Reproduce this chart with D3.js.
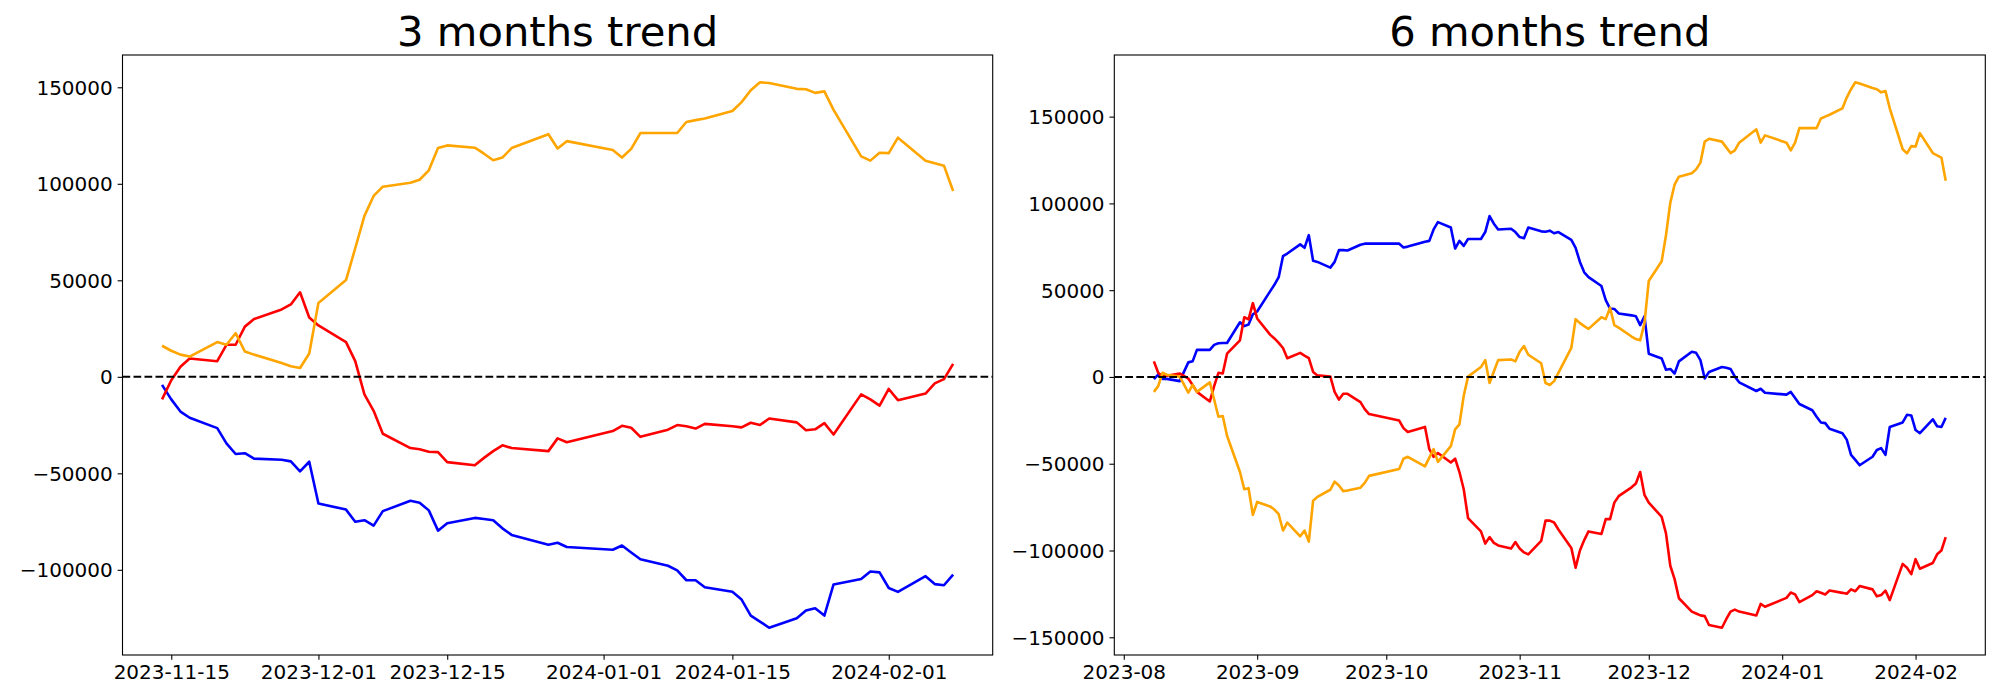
<!DOCTYPE html>
<html><head><meta charset="utf-8">
<script src="https://cdn.jsdelivr.net/npm/d3@7"></script>
<style>body{margin:0;background:#fff}svg{display:block}text{font-family:"DejaVu Sans",sans-serif}</style>
</head><body>
<svg id="c" width="2000" height="700"></svg>
<script>
const titles = ["3 months trend", "6 months trend"];
const seriesColors = ["blue", "red", "orange"];

const dates3 = [
"2023-11-14","2023-11-15","2023-11-16","2023-11-17","2023-11-20","2023-11-21","2023-11-22","2023-11-23","2023-11-24","2023-11-27","2023-11-28","2023-11-29","2023-11-30",
"2023-12-01","2023-12-04","2023-12-05","2023-12-06","2023-12-07","2023-12-08","2023-12-11","2023-12-12","2023-12-13","2023-12-14","2023-12-15","2023-12-18","2023-12-19","2023-12-20","2023-12-21","2023-12-22","2023-12-26","2023-12-27","2023-12-28",
"2024-01-02","2024-01-03","2024-01-04","2024-01-05","2024-01-08","2024-01-09","2024-01-10","2024-01-11","2024-01-12","2024-01-15","2024-01-16","2024-01-17","2024-01-18","2024-01-19","2024-01-22","2024-01-23","2024-01-24","2024-01-25","2024-01-26","2024-01-29","2024-01-30","2024-01-31",
"2024-02-01","2024-02-02","2024-02-05","2024-02-06","2024-02-07","2024-02-08"];
const blue3 = [
-4200,-11700,-18000,-21200,-26600,-34500,-40000,-39600,-42400,-43000,-43800,-49000,-44000,
-65600,-68800,-75100,-74300,-77100,-69600,-64200,-65200,-69200,-79700,-75900,-73100,-73700,-74300,-78500,-81900,-87000,-86000,-88200,
-89600,-87400,-91000,-94500,-97900,-100300,-105400,-105400,-109000,-111400,-115400,-123700,-126800,-130000,-125100,-121100,-119900,-123700,-107600,-104800,-100900,-101300,
-109400,-111400,-103300,-107400,-108000,-102500];
const red3 = [
-11700,-1800,5200,9500,8100,16600,16600,26000,29900,34900,37500,43800,30700,
26600,18000,8100,-9100,-17600,-29500,-36900,-37500,-38800,-39000,-44200,-45800,-42000,-38500,-35500,-36900,-38500,-31900,-33900,
-28100,-25400,-26400,-31100,-27400,-25000,-25600,-26800,-24400,-25600,-26200,-23800,-25000,-21600,-23600,-27700,-27200,-24000,-29900,-9100,-11700,-14900,
-6300,-12100,-8700,-3400,-1200,6700];
const orange3 = [
16100,13500,11500,10500,18000,16600,22600,13100,11500,7100,5500,4600,12100,
38300,50100,66600,83400,93700,98500,100500,102100,107000,118500,119900,118700,115600,112200,113600,118500,125700,118300,122100,
117500,113600,118100,126300,126300,126300,132000,133000,133800,137700,142300,148500,152600,152200,149200,149000,147100,147900,138300,114200,112000,116100,
115900,123900,112000,110600,109400,96300];

const dates6 = [
"2023-08-08","2023-08-09","2023-08-10","2023-08-11","2023-08-14","2023-08-16","2023-08-17","2023-08-18","2023-08-21","2023-08-22","2023-08-23","2023-08-24","2023-08-25","2023-08-28","2023-08-29","2023-08-30","2023-08-31",
"2023-09-01","2023-09-04","2023-09-05","2023-09-06","2023-09-07","2023-09-08","2023-09-11","2023-09-12","2023-09-13","2023-09-14","2023-09-15","2023-09-18","2023-09-19","2023-09-20","2023-09-21","2023-09-22","2023-09-25","2023-09-26","2023-09-27",
"2023-10-04","2023-10-05","2023-10-06","2023-10-10","2023-10-11","2023-10-12","2023-10-13","2023-10-16","2023-10-17","2023-10-18","2023-10-19","2023-10-20","2023-10-23","2023-10-24","2023-10-25","2023-10-26","2023-10-27","2023-10-30","2023-10-31",
"2023-11-01","2023-11-02","2023-11-03","2023-11-06","2023-11-07","2023-11-08","2023-11-09","2023-11-10","2023-11-13","2023-11-14","2023-11-15","2023-11-16","2023-11-17","2023-11-20","2023-11-21","2023-11-22","2023-11-23","2023-11-24","2023-11-27","2023-11-28","2023-11-29","2023-11-30",
"2023-12-01","2023-12-04","2023-12-05","2023-12-06","2023-12-07","2023-12-08","2023-12-11","2023-12-12","2023-12-13","2023-12-14","2023-12-15","2023-12-18","2023-12-19","2023-12-20","2023-12-21","2023-12-22","2023-12-26","2023-12-27","2023-12-28",
"2024-01-02","2024-01-03","2024-01-04","2024-01-05","2024-01-08","2024-01-09","2024-01-10","2024-01-11","2024-01-12","2024-01-15","2024-01-16","2024-01-17","2024-01-18","2024-01-19","2024-01-22","2024-01-23","2024-01-24","2024-01-25","2024-01-26","2024-01-29","2024-01-30","2024-01-31",
"2024-02-01","2024-02-02","2024-02-05","2024-02-06","2024-02-07","2024-02-08"];
const blue6 = [
-1300,1300,-1100,-1100,-2400,8400,9000,15600,15600,18500,19400,19600,19600,31500,29300,30200,36100,
37700,49300,53100,57500,69600,71100,76400,74400,81700,66900,66300,63000,66300,73100,73100,72900,76200,76800,76800,
76800,74600,75100,77900,78400,85000,89200,86100,74000,78400,75500,79500,79500,83500,92700,88300,85000,85400,83500,
80600,79900,86100,83900,83700,84300,82800,83500,79000,74400,66300,60300,57500,52400,44300,39400,39200,36600,35500,35000,29900,35000,
13400,10600,4200,4600,2000,9000,14500,13900,9700,-900,2900,5700,5300,4600,200,-3100,-8100,-6800,-9100,
-10200,-8600,-12100,-15600,-19200,-22900,-26200,-26600,-29900,-32400,-36100,-44900,-47800,-50900,-46000,-42100,-41000,-44900,-28800,-26200,-21800,-22200,
-30600,-32400,-24400,-28400,-28800,-23600];
const red6 = [
9000,2400,200,700,2000,-900,-4600,-8600,-14100,-5300,2400,2000,13400,21100,34400,33200,42500,
33700,24400,22200,19600,16700,10800,13900,12300,10800,2900,900,200,-8600,-13000,-9700,-9700,-14500,-18500,-21400,
-25100,-29500,-31700,-28800,-41600,-46000,-43800,-49300,-47100,-54800,-64700,-81300,-89000,-96000,-92300,-95600,-97100,-98900,-95100,
-98900,-101100,-102200,-94500,-82800,-82800,-83900,-87900,-98500,-109900,-100000,-94000,-89000,-90500,-81900,-81900,-72400,-68700,-63600,-61400,-54800,-68000,
-72400,-80600,-90100,-108800,-116500,-127500,-135200,-136300,-137400,-137800,-142900,-144500,-139600,-135200,-134100,-135200,-137400,-130800,-132400,
-127300,-124200,-125300,-129700,-125700,-123500,-124400,-125300,-123100,-124400,-124900,-122400,-123500,-120500,-122400,-126400,-125700,-123100,-128600,-107700,-109900,-113600,
-105000,-110500,-107200,-102200,-100000,-92300];
const orange6 = [
-8600,-5300,2400,1300,200,-9000,-4600,-8600,-3100,-13000,-22900,-22500,-33900,-54800,-64700,-64100,-79500,
-72000,-74600,-76400,-79100,-88500,-83900,-91800,-88500,-94900,-71300,-69100,-65000,-60300,-62500,-65800,-65400,-63800,-61000,-57000,
-53100,-47100,-46000,-51500,-46500,-41600,-48900,-39900,-30200,-27300,-10800,200,5700,9700,-3500,3100,9700,10100,9000,
14500,17800,12800,7900,-3500,-4600,-2400,2400,16700,33300,31000,29300,27700,34400,33300,39900,29900,28400,23300,21800,21100,31000,
55300,66700,81700,100400,110800,115400,117400,119600,123500,135600,137200,135600,132300,129000,130600,135000,142700,135000,139200,
135000,130600,135000,143400,143400,143400,148900,150000,151100,154800,161000,165800,169800,169100,166500,165800,164000,164700,154800,131200,128800,133000,
132800,140500,129000,127700,126400,113000];

const xTicks3 = ["2023-11-15","2023-12-01","2023-12-15","2024-01-01","2024-01-15","2024-02-01"];
const xTicks6 = ["2023-08-01","2023-09-01","2023-10-01","2023-11-01","2023-12-01","2024-01-01","2024-02-01"];
const yTicks3 = [-100000,-50000,0,50000,100000,150000];
const yTicks6 = [-150000,-100000,-50000,0,50000,100000,150000];

const parse = d3.utcParse("%Y-%m-%d");
const svg = d3.select("#c");
svg.append("rect").attr("width",2000).attr("height",700).attr("fill","#fff");

const panels = [
  {title: titles[0], dates: dates3, series: [blue3, red3, orange3], xTicks: xTicks3, xFmt: "%Y-%m-%d", yTicks: yTicks3, x0: 122.5, x1: 992.7},
  {title: titles[1], dates: dates6, series: [blue6, red6, orange6], xTicks: xTicks6, xFmt: "%Y-%m", yTicks: yTicks6, x0: 1114.3, x1: 1985.3}
];
const plotTop = 55, plotBottom = 655;
const tickLen = 4.86, tickPad = 4.86;

panels.forEach((p, pi) => {
  const dts = p.dates.map(parse);
  const [dmin, dmax] = d3.extent(dts);
  const dspan = dmax - dmin;
  const x = d3.scaleUtc().domain([new Date(+dmin - dspan*0.05), new Date(+dmax + dspan*0.05)]).range([p.x0, p.x1]);
  const all = p.series.flat();
  const [vmin, vmax] = d3.extent(all);
  const vspan = vmax - vmin;
  const y = d3.scaleLinear().domain([vmin - vspan*0.05, vmax + vspan*0.05]).range([plotBottom, plotTop]);

  const g = svg.append("g");
  const clipId = "clip" + pi;
  svg.append("clipPath").attr("id", clipId).append("rect")
    .attr("x", p.x0).attr("y", plotTop).attr("width", p.x1 - p.x0).attr("height", plotBottom - plotTop);

  const plot = g.append("g").attr("clip-path", `url(#${clipId})`);
  const line = d3.line().x((d,i) => x(dts[i])).y(d => y(d));
  p.series.forEach((s, k) => {
    plot.append("path").datum(s).attr("d", line)
      .attr("fill","none").attr("stroke", seriesColors[k]).attr("stroke-width", 2.6)
      .attr("stroke-linejoin","round").attr("stroke-linecap","butt");
  });
  plot.append("line").attr("x1", p.x0).attr("x2", p.x1).attr("y1", y(0)).attr("y2", y(0))
    .attr("stroke","#000").attr("stroke-width", 2.08).attr("stroke-dasharray","7.7,3.3");

  const xa = d3.axisBottom(x).tickValues(p.xTicks.map(parse)).tickFormat(d3.utcFormat(p.xFmt))
    .tickSizeInner(tickLen).tickSizeOuter(0).tickPadding(tickPad);
  const gx = g.append("g").attr("transform", `translate(0,${plotBottom})`).call(xa);
  const ya = d3.axisLeft(y).tickValues(p.yTicks).tickFormat(d3.format("d"))
    .tickSizeInner(tickLen).tickSizeOuter(0).tickPadding(tickPad);
  const gy = g.append("g").attr("transform", `translate(${p.x0},0)`).call(ya);
  [gx, gy].forEach(a => {
    a.select(".domain").remove();
    a.selectAll(".tick line").attr("stroke","#000").attr("stroke-width",1.1);
    a.selectAll(".tick text").attr("fill","#000").style("font-size","20px").style("font-family","DejaVu Sans");
  });
  gy.selectAll(".tick text").attr("dy","0.35em");

  g.append("rect").attr("x", p.x0).attr("y", plotTop).attr("width", p.x1 - p.x0).attr("height", plotBottom - plotTop)
    .attr("fill","none").attr("stroke","#000").attr("stroke-width",1.1);

  g.append("text").attr("x", (p.x0 + p.x1)/2).attr("y", 46).attr("text-anchor","middle")
    .style("font-size","41.7px").style("font-family","DejaVu Sans").attr("fill","#000").text(p.title);
});
</script>
</body></html>
